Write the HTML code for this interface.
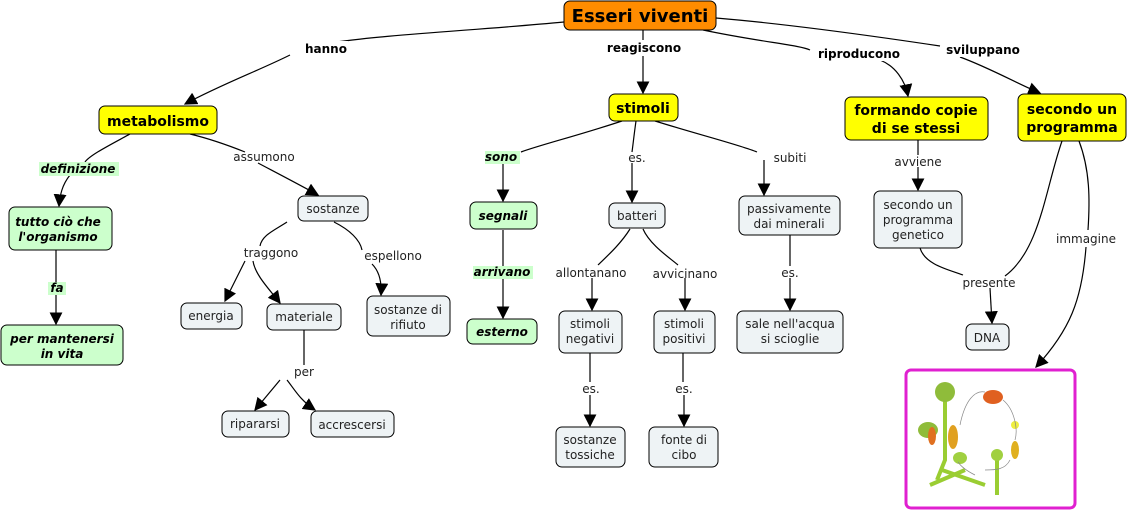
<!DOCTYPE html>
<html><head><meta charset="utf-8"><style>
html,body{margin:0;padding:0;background:#fff;}
svg{display:block;}
text{font-family:"DejaVu Sans","Liberation Sans",sans-serif;font-size:12px;fill:#222;}
.b{font-weight:bold;fill:#000;}
.bi{font-weight:bold;font-style:italic;fill:#000;}
.n{fill:#eef3f5;stroke:#000;stroke-width:1;}
.y{fill:#ffff00;stroke:#000;stroke-width:1;}
.g{fill:#ccffcc;stroke:#000;stroke-width:1;}
path.l{fill:none;stroke:#000;stroke-width:1.2;}
</style></head><body>
<svg width="1128" height="511" viewBox="0 0 1128 511" xmlns="http://www.w3.org/2000/svg">
<defs><marker id="a" viewBox="0 0 10 10" refX="9" refY="5" markerWidth="13" markerHeight="13" markerUnits="userSpaceOnUse" orient="auto"><path d="M0,0 L10,5 L0,10 z" fill="#000"/></marker></defs>

<!-- connectors -->
<path class="l" d="M564,22 C480,30 380,35 330,43"/>
<path class="l" d="M290,55 C260,70 220,85 185,104" marker-end="url(#a)"/>
<path class="l" d="M643,30 L643,40"/>
<path class="l" d="M643,56 L643,93" marker-end="url(#a)"/>
<path class="l" d="M703,30 C760,42 800,45 810,50"/>
<path class="l" d="M880,60 C895,66 905,80 908,96" marker-end="url(#a)"/>
<path class="l" d="M716,18 C800,25 900,40 940,46"/>
<path class="l" d="M960,57 C990,68 1020,85 1040,93" marker-end="url(#a)"/>
<!-- metabolismo -->
<path class="l" d="M130,134 C110,145 90,155 85,162"/>
<path class="l" d="M70,175 C62,185 60,195 59,206" marker-end="url(#a)"/>
<path class="l" d="M190,134 C215,140 235,148 245,152"/>
<path class="l" d="M258,163 C275,172 300,185 318,195" marker-end="url(#a)"/>
<path class="l" d="M56,250 L56,282"/>
<path class="l" d="M56,294 L56,324" marker-end="url(#a)"/>
<path class="l" d="M287,222 C275,230 262,235 260,246"/>
<path class="l" d="M245,261 L225,301" marker-end="url(#a)"/>
<path class="l" d="M253,261 C255,275 270,290 280,303" marker-end="url(#a)"/>
<path class="l" d="M334,222 C350,230 360,240 362,250"/>
<path class="l" d="M372,264 C378,270 382,280 381,295" marker-end="url(#a)"/>
<path class="l" d="M304,330 L304,365"/>
<path class="l" d="M280,380 L255,410" marker-end="url(#a)"/>
<path class="l" d="M287,380 C295,390 300,400 315,410" marker-end="url(#a)"/>
<!-- stimoli -->
<path class="l" d="M622,121 C580,135 540,145 521,152"/>
<path class="l" d="M503,164 L503,201" marker-end="url(#a)"/>
<path class="l" d="M636,121 C634,135 633,145 632,152"/>
<path class="l" d="M632,163 L632,202" marker-end="url(#a)"/>
<path class="l" d="M655,121 C700,135 740,145 757,152"/>
<path class="l" d="M764,160 L764,195" marker-end="url(#a)"/>
<path class="l" d="M503,230 L503,266"/>
<path class="l" d="M503,278 L503,318" marker-end="url(#a)"/>
<path class="l" d="M630,229 C620,245 605,258 598,265"/>
<path class="l" d="M592,278 L592,310" marker-end="url(#a)"/>
<path class="l" d="M643,229 C650,245 670,258 678,265"/>
<path class="l" d="M685,278 L685,310" marker-end="url(#a)"/>
<path class="l" d="M590,353 L590,382"/>
<path class="l" d="M590,395 L590,426" marker-end="url(#a)"/>
<path class="l" d="M683,353 L683,382"/>
<path class="l" d="M684,395 L684,426" marker-end="url(#a)"/>
<path class="l" d="M790,235 L790,266"/>
<path class="l" d="M790,278 L790,310" marker-end="url(#a)"/>
<!-- right -->
<path class="l" d="M918,140 L918,155"/>
<path class="l" d="M918,167 L918,190" marker-end="url(#a)"/>
<path class="l" d="M920,248 C925,265 950,270 963,275"/>
<path class="l" d="M1062,141 C1045,190 1040,250 1005,276"/>
<path class="l" d="M990,288 L992,323" marker-end="url(#a)"/>
<path class="l" d="M1079,141 C1090,170 1090,200 1088,230"/>
<path class="l" d="M1086,247 C1082,300 1070,330 1036,367" marker-end="url(#a)"/>

<!-- link labels -->
<rect x="305" y="41" width="43" height="15" fill="#fff"/><text x="326" y="53" class="b" text-anchor="middle">hanno</text>
<rect x="606" y="40" width="76" height="15" fill="#fff"/><text x="644" y="52" class="b" text-anchor="middle">reagiscono</text>
<rect x="817" y="46" width="84" height="15" fill="#fff"/><text x="859" y="58" class="b" text-anchor="middle">riproducono</text>
<rect x="945" y="42" width="76" height="15" fill="#fff"/><text x="983" y="54" class="b" text-anchor="middle">sviluppano</text>
<rect x="39" y="162" width="80" height="14" fill="#ccffcc"/><text x="78" y="173" class="bi" text-anchor="middle">definizione</text>
<rect x="48" y="282" width="18" height="13" fill="#ccffcc"/><text x="57" y="292" class="bi" text-anchor="middle">fa</text>
<text x="264" y="161" text-anchor="middle">assumono</text>
<text x="271" y="257" text-anchor="middle">traggono</text>
<text x="393" y="260" text-anchor="middle">espellono</text>
<text x="304" y="376" text-anchor="middle">per</text>
<rect x="485" y="151" width="35" height="13" fill="#ccffcc"/><text x="501" y="161" class="bi" text-anchor="middle">sono</text>
<rect x="473" y="266" width="60" height="13" fill="#ccffcc"/><text x="502" y="276" class="bi" text-anchor="middle">arrivano</text>
<text x="637" y="162" text-anchor="middle">es.</text>
<text x="790" y="162" text-anchor="middle">subiti</text>
<text x="591" y="277" text-anchor="middle">allontanano</text>
<text x="685" y="278" text-anchor="middle">avvicinano</text>
<text x="790" y="277" text-anchor="middle">es.</text>
<text x="591" y="393" text-anchor="middle">es.</text>
<text x="684" y="393" text-anchor="middle">es.</text>
<text x="918" y="166" text-anchor="middle">avviene</text>
<text x="989" y="287" text-anchor="middle">presente</text>
<text x="1086" y="243" text-anchor="middle">immagine</text>

<!-- nodes -->
<rect x="564" y="1" width="152" height="29" rx="6" fill="#ff8c00" stroke="#000"/>
<text x="640" y="22" class="b" text-anchor="middle" style="font-size:18px">Esseri viventi</text>
<rect x="99" y="106" width="118" height="28" rx="6" class="y"/><text x="158" y="126" class="b" text-anchor="middle" style="font-size:14px">metabolismo</text>
<rect x="609" y="94" width="69" height="27" rx="6" class="y"/><text x="643" y="113" class="b" text-anchor="middle" style="font-size:14px">stimoli</text>
<rect x="845" y="97" width="143" height="43" rx="6" class="y"/><text x="916" y="115" class="b" text-anchor="middle" style="font-size:14px">formando copie</text><text x="916" y="133" class="b" text-anchor="middle" style="font-size:14px">di se stessi</text>
<rect x="1018" y="94" width="108" height="47" rx="6" class="y"/><text x="1072" y="114" class="b" text-anchor="middle" style="font-size:14px">secondo un</text><text x="1072" y="132" class="b" text-anchor="middle" style="font-size:14px">programma</text>

<rect x="9" y="207" width="103" height="43" rx="6" class="g"/><text x="58" y="226" class="bi" text-anchor="middle">tutto ciò che</text><text x="58" y="241" class="bi" text-anchor="middle">l'organismo</text>
<rect x="1" y="325" width="122" height="40" rx="6" class="g"/><text x="62" y="343" class="bi" text-anchor="middle">per mantenersi</text><text x="62" y="358" class="bi" text-anchor="middle">in vita</text>
<rect x="470" y="202" width="67" height="27" rx="6" class="g"/><text x="503" y="220" class="bi" text-anchor="middle">segnali</text>
<rect x="467" y="319" width="70" height="25" rx="6" class="g"/><text x="502" y="336" class="bi" text-anchor="middle">esterno</text>

<rect x="298" y="196" width="70" height="25" rx="6" class="n"/><text x="333" y="213" text-anchor="middle">sostanze</text>
<rect x="181" y="303" width="61" height="26" rx="6" class="n"/><text x="211" y="320" text-anchor="middle">energia</text>
<rect x="267" y="304" width="74" height="26" rx="6" class="n"/><text x="304" y="321" text-anchor="middle">materiale</text>
<rect x="367" y="296" width="83" height="40" rx="6" class="n"/><text x="408" y="314" text-anchor="middle">sostanze di</text><text x="408" y="329" text-anchor="middle">rifiuto</text>
<rect x="222" y="411" width="67" height="26" rx="6" class="n"/><text x="255" y="428" text-anchor="middle">ripararsi</text>
<rect x="311" y="411" width="83" height="26" rx="6" class="n"/><text x="352" y="429" text-anchor="middle">accrescersi</text>
<rect x="609" y="203" width="56" height="25" rx="6" class="n"/><text x="637" y="220" text-anchor="middle">batteri</text>
<rect x="739" y="196" width="101" height="39" rx="6" class="n"/><text x="789" y="213" text-anchor="middle">passivamente</text><text x="789" y="228" text-anchor="middle">dai minerali</text>
<rect x="559" y="311" width="63" height="42" rx="6" class="n"/><text x="590" y="328" text-anchor="middle">stimoli</text><text x="590" y="343" text-anchor="middle">negativi</text>
<rect x="654" y="311" width="61" height="42" rx="6" class="n"/><text x="684" y="328" text-anchor="middle">stimoli</text><text x="684" y="343" text-anchor="middle">positivi</text>
<rect x="737" y="311" width="106" height="42" rx="6" class="n"/><text x="790" y="328" text-anchor="middle">sale nell'acqua</text><text x="790" y="343" text-anchor="middle">si scioglie</text>
<rect x="556" y="427" width="69" height="40" rx="6" class="n"/><text x="590" y="444" text-anchor="middle">sostanze</text><text x="590" y="459" text-anchor="middle">tossiche</text>
<rect x="649" y="427" width="69" height="40" rx="6" class="n"/><text x="684" y="444" text-anchor="middle">fonte  di</text><text x="684" y="459" text-anchor="middle">cibo</text>
<rect x="874" y="191" width="88" height="57" rx="6" class="n"/><text x="918" y="209" text-anchor="middle">secondo un</text><text x="918" y="224" text-anchor="middle">programma</text><text x="918" y="239" text-anchor="middle">genetico</text>
<rect x="966" y="324" width="43" height="26" rx="6" class="n"/><text x="987" y="342" text-anchor="middle">DNA</text>

<!-- image -->
<rect x="906" y="370" width="169" height="138" rx="5" fill="#fff" stroke="#e020d0" stroke-width="3"/>
<g stroke="#9acd32" stroke-width="4" fill="none">
<path d="M945,395 L945,460 L937,480"/><path d="M930,485 L965,470"/><path d="M942,470 L985,485"/>
<path d="M997,455 L997,495"/>
</g>
<circle cx="945" cy="392" r="10" fill="#8fbc3a"/>
<ellipse cx="928" cy="430" rx="10" ry="8" fill="#8fbc3a"/>
<ellipse cx="932" cy="436" rx="4" ry="9" fill="#e07020"/>
<ellipse cx="953" cy="437" rx="5" ry="12" fill="#e0a020"/>
<ellipse cx="960" cy="458" rx="7" ry="6" fill="#a0d040"/>
<ellipse cx="993" cy="397" rx="10" ry="7" fill="#e06020"/>
<circle cx="1015" cy="425" r="4" fill="#eeee40"/>
<ellipse cx="1015" cy="450" rx="4" ry="9" fill="#e0b020"/>
<ellipse cx="997" cy="455" rx="6" ry="6" fill="#a0d040"/>
<path d="M960,425 C965,400 975,390 985,392 M1003,400 C1015,410 1018,430 1015,440 M1010,460 C1005,470 995,470 985,470 M975,475 C965,470 960,465 958,462" stroke="#888" fill="none" stroke-width="0.7"/>
</svg>
</body></html>
